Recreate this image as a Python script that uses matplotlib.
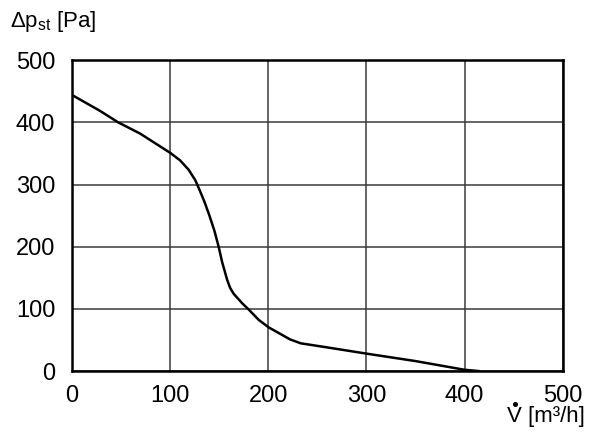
import numpy as np
import matplotlib.pyplot as plt
from matplotlib.lines import Line2D

# Fan curve
flow = [0, 28.4, 47, 69.3, 100, 110, 118.7, 125.6, 130, 135, 140, 145, 149.4, 153,
        158, 161, 164.8, 173.4, 180, 190.4, 200.6, 210.8, 222, 233, 260, 284, 300, 350, 400, 414]
pressure = [444, 418.6, 400, 382, 351, 339, 324, 307, 291, 272, 250, 226, 200, 175,
            147, 134, 124, 109, 99, 82, 70, 61, 51, 44.6, 38, 32, 28, 16, 2, 0]

x_ticks = [0, 100, 200, 300, 400, 500]
y_ticks = [0, 100, 200, 300, 400, 500]

plt.rcParams['font.family'] = ['Liberation Sans', 'DejaVu Sans']
plt.rcParams['mathtext.fontset'] = 'custom'
plt.rcParams['mathtext.rm'] = 'Liberation Sans'

fig = plt.figure(figsize=(6, 4.36), dpi=100)
ax = fig.add_axes([0.12, 0.149, 0.818, 0.713])

ax.plot(flow, pressure, color='black', lw=1.8, solid_joinstyle='round')

ax.set_xlim(0, 500)
ax.set_ylim(0, 500)
ax.set_xticks(x_ticks)
ax.set_yticks(y_ticks)
ax.tick_params(length=0, labelsize=17, pad=10)
ax.tick_params(axis='y', pad=12)
ax.grid(True, color='#3a3a3a', lw=1.1)
for s in ax.spines.values():
    s.set_linewidth(1.8)
    s.set_color('black')

fig.text(0.017, 0.95, r'$\mathregular{\Delta p_{st}}$ [Pa]', fontsize=16, va='center', ha='left')

# x label: V with a dot above it (dot drawn as a marker)
xl = fig.text(0.975, 0.045, 'V [m\u00b3/h]', fontsize=16, va='center', ha='right')
fig.canvas.draw()
r = fig.canvas.get_renderer()
bb = xl.get_window_extent(r)
tmp = fig.text(0, 0, 'V', fontsize=16)
vw = tmp.get_window_extent(r).width
tmp.remove()
W, H = fig.bbox.width, fig.bbox.height
dx, dy = (bb.x0 + vw / 2) / W, (bb.y1 + 2) / H
fig.add_artist(Line2D([dx], [dy], marker='o', ms=2.6, color='black', lw=0,
                      transform=fig.transFigure))

fig.savefig('out.png', dpi=100)
